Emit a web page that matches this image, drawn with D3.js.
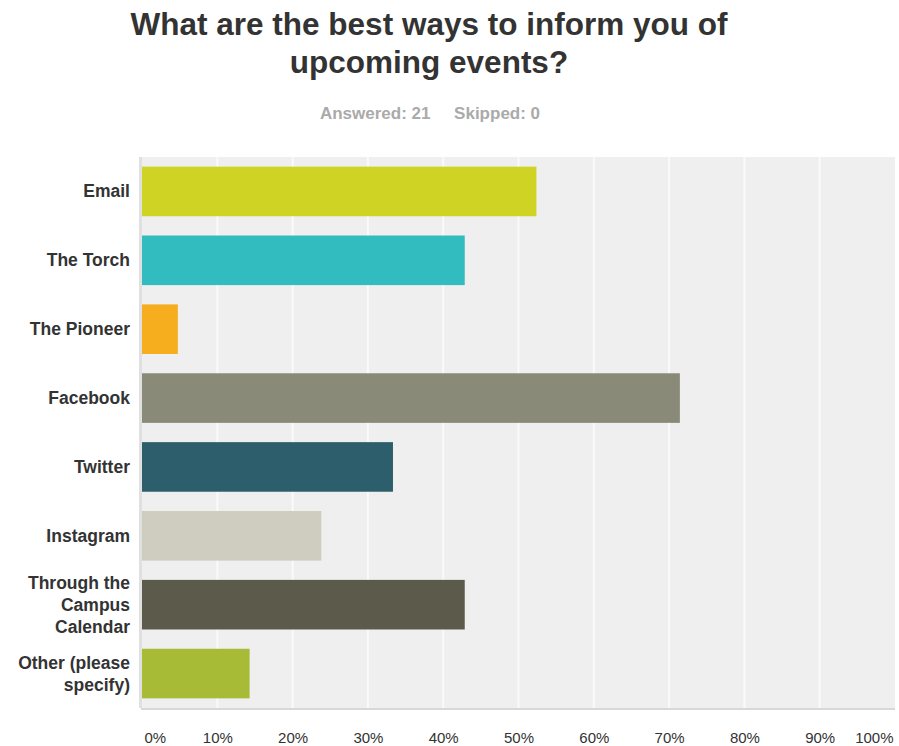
<!DOCTYPE html>
<html>
<head>
<meta charset="utf-8">
<script src="https://cdn.jsdelivr.net/npm/d3@7"></script>
<style>
  body { margin: 0; background: #fff; }
  svg text { font-family: "Liberation Sans", Arial, sans-serif; }
</style>
</head>
<body>
<div id="chart"></div>
<script>
// survey data
const categories = ["Email", "The Torch", "The Pioneer", "Facebook", "Twitter", "Instagram",
  "Through the Campus Calendar", "Other (please specify)"];
const labelLines = [["Email"], ["The Torch"], ["The Pioneer"], ["Facebook"], ["Twitter"], ["Instagram"],
  ["Through the", "Campus", "Calendar"], ["Other (please", "specify)"]];
const percents = [52.38, 42.86, 4.76, 71.43, 33.33, 23.81, 42.86, 14.29];
const colors = ["#cfd324", "#33bcbf", "#f6ae1e", "#898a78", "#2d5e6b", "#cfcdbf", "#5b5a4b", "#a8bb37"];
const tickValues = [0, 10, 20, 30, 40, 50, 60, 70, 80, 90, 100];
const titleLines = ["What are the best ways to inform you of", "upcoming events?"];

const W = 899, H = 746;
const plot = { left: 142, right: 895, top: 157, bottom: 708 };

const svg = d3.select("#chart").append("svg")
  .attr("width", W)
  .attr("height", H);

// title
svg.append("text")
  .attr("x", 429)
  .attr("y", 35)
  .attr("text-anchor", "middle")
  .style("font-size", "31.5px")
  .style("font-weight", "bold")
  .style("fill", "#333")
  .selectAll("tspan")
  .data(titleLines)
  .enter()
  .append("tspan")
  .attr("x", 429)
  .attr("dy", (d, i) => i === 0 ? 0 : 38)
  .text(d => d);

svg.append("text")
  .attr("x", 430)
  .attr("y", 119)
  .attr("text-anchor", "middle")
  .style("font-size", "17px")
  .style("font-weight", "bold")
  .style("fill", "#aaa")
  .attr("xml:space", "preserve")
  .text("Answered: 21     Skipped: 0");

const x = d3.scaleLinear()
  .domain([0, 100])
  .range([plot.left, plot.right]);

const y = d3.scaleBand()
  .domain(categories)
  .range([plot.top, plot.bottom])
  .paddingInner(0.28)
  .paddingOuter(0.14);

// background + shadow
svg.append("rect")
  .attr("x", plot.left - 1)
  .attr("y", plot.top + 2)
  .attr("width", plot.right - plot.left + 1)
  .attr("height", plot.bottom - plot.top)
  .attr("fill", "#d8d8d8");
svg.append("rect")
  .attr("x", plot.left - 3)
  .attr("y", plot.top)
  .attr("width", plot.right - plot.left + 3)
  .attr("height", plot.bottom - plot.top)
  .attr("fill", "#e0e0e0");
svg.append("rect")
  .attr("x", plot.left)
  .attr("y", plot.top)
  .attr("width", plot.right - plot.left)
  .attr("height", plot.bottom - plot.top)
  .attr("fill", "#efefef");

// gridlines
svg.append("g")
  .selectAll("line")
  .data(tickValues.slice(1, -1))
  .enter()
  .append("line")
  .attr("x1", d => x(d))
  .attr("x2", d => x(d))
  .attr("y1", plot.top)
  .attr("y2", plot.bottom)
  .attr("stroke", "#fafafa")
  .attr("stroke-width", 2);

// bars
svg.append("g")
  .selectAll("rect")
  .data(categories)
  .enter()
  .append("rect")
  .attr("x", x(0))
  .attr("y", d => y(d))
  .attr("width", (d, i) => x(percents[i]) - x(0))
  .attr("height", y.bandwidth())
  .attr("fill", (d, i) => colors[i]);

// x tick labels
const xAxis = svg.append("g")
  .attr("transform", "translate(0," + 743 + ")")
  .call(d3.axisBottom(x).tickValues(tickValues).tickFormat(d => d + "%").tickSize(0));
xAxis.select(".domain").remove();
xAxis.selectAll("text")
  .attr("y", 0)
  .attr("dy", 0)
  .style("font-size", "15px")
  .style("fill", "#333")
  .style("font-family", "'Liberation Sans Narrow', 'Liberation Sans', Arial, sans-serif")
  .attr("text-anchor", d => d === 0 ? "start" : d === 100 ? "end" : "middle")
  .attr("x", d => d === 0 ? 2 : d === 100 ? -2 : 0);

// category labels
const labels = svg.append("g")
  .selectAll("text")
  .data(categories)
  .enter()
  .append("text")
  .attr("text-anchor", "end")
  .style("font-size", "17.5px")
  .style("font-weight", "bold")
  .style("fill", "#333")
  .attr("y", (d, i) => y(d) + y.bandwidth() / 2 + 6 - (labelLines[i].length - 1) * 11);

labels.selectAll("tspan")
  .data((d, i) => labelLines[i])
  .enter()
  .append("tspan")
  .attr("x", 130)
  .attr("dy", (d, j) => j === 0 ? 0 : 22)
  .text(d => d);
</script>
</body>
</html>
